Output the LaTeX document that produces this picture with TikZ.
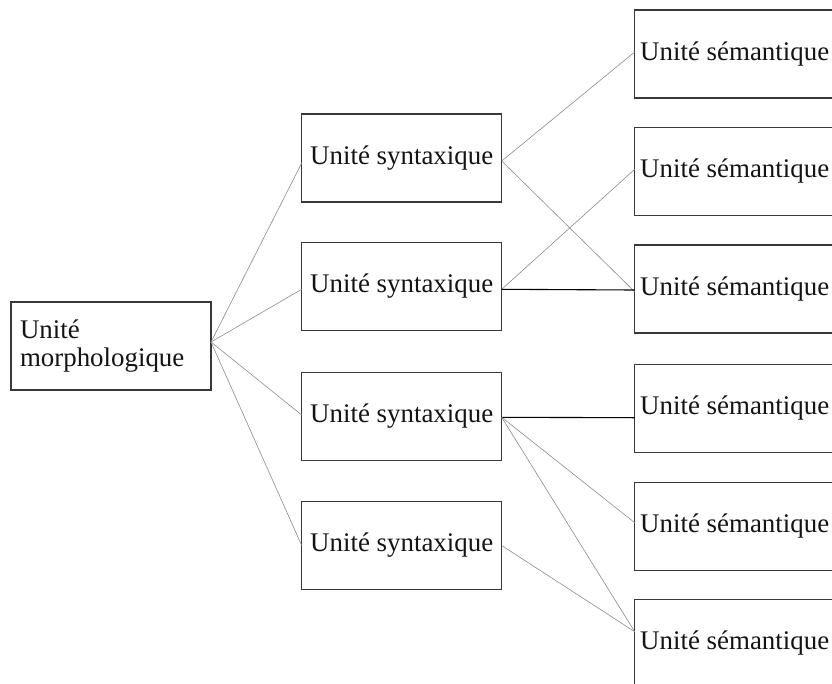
\documentclass[tikz,border=0pt]{standalone}
\usepackage{fontspec}
\setmainfont{Liberation Serif}
\begin{document}
\begin{tikzpicture}[x=1pt,y=-1pt,
  unitbox/.style={draw=black!78, line width=1.1pt, minimum width=200pt, minimum height=88pt,
    inner sep=0pt, outer sep=0pt, font=\fontsize{26.9}{27.7}\selectfont, text=black!92},
  thin link/.style={draw=black!45, line width=0.6pt},
  strong link/.style={draw=black, line width=1.1pt}]
\clip (0,0) rectangle (832,683);
\fill[white] (0,0) rectangle (832,683);
% left box
\node[unitbox, align=left, text width=182pt, inner xsep=9pt] (m) at (111,346) {Unité\\morphologique};
% syntactic boxes
\node[unitbox] (y1) at (401.7,158) {Unité syntaxique};
\node[unitbox] (y2) at (401.7,286.5) {Unité syntaxique};
\node[unitbox] (y3) at (401.7,416.5) {Unité syntaxique};
\node[unitbox] (y4) at (401.7,545.5) {Unité syntaxique};
% semantic boxes
\node[unitbox] (s1) at (734.7,54) {Unité sémantique};
\node[unitbox] (s2) at (734.7,171.5) {Unité sémantique};
\node[unitbox] (s3) at (734.7,289) {Unité sémantique};
\node[unitbox] (s4) at (734.7,408.5) {Unité sémantique};
\node[unitbox] (s5) at (734.7,526.2) {Unité sémantique};
\node[unitbox] (s6) at (734.7,643.3) {Unité sémantique};
% links morph -> syntax
\draw[thin link] ([yshift=4pt]m.east) -- ([yshift=-5pt]y1.west);
\draw[thin link] ([yshift=4pt]m.east) -- ([yshift=-2.8pt]y2.west);
\draw[thin link] ([yshift=4pt]m.east) -- ([yshift=1.5pt]y3.west);
\draw[thin link] ([yshift=4pt]m.east) -- (y4.west);
% links syntax -> semantics
\draw[thin link] ([yshift=-3pt]y1.east) -- ([yshift=2pt]s1.west);
\draw[thin link] ([yshift=-3pt]y1.east) -- ([yshift=-2.7pt]s3.west);
\draw[thin link] ([yshift=-2.8pt]y2.east) -- ([yshift=2.2pt]s2.west);
\draw[strong link] ([yshift=-2.8pt]y2.east) -- ([yshift=-1pt]s3.west);
\draw[strong link] ([yshift=-0.8pt]y3.east) -- ([yshift=-9.2pt]s4.west);
\draw[thin link] ([yshift=-0.8pt]y3.east) -- ([yshift=3.5pt]s5.west);
\draw[thin link] ([yshift=-0.8pt]y3.east) -- ([yshift=11.6pt]s6.west);
\draw[thin link] (y4.east) -- ([yshift=11.6pt]s6.west);
\end{tikzpicture}
\end{document}
